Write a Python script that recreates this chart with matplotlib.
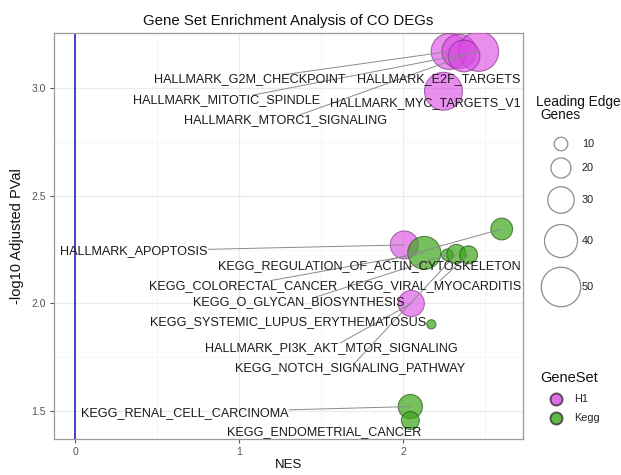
import numpy as np
import matplotlib
matplotlib.use("Agg")
import matplotlib.pyplot as plt

plt.rcParams['font.family'] = ['Liberation Sans', 'DejaVu Sans']

# ---- data ----
pathways = ["HALLMARK_G2M_CHECKPOINT", "HALLMARK_E2F_TARGETS", "HALLMARK_MITOTIC_SPINDLE",
            "HALLMARK_MTORC1_SIGNALING", "HALLMARK_MYC_TARGETS_V1", "HALLMARK_APOPTOSIS",
            "HALLMARK_PI3K_AKT_MTOR_SIGNALING", "KEGG_REGULATION_OF_ACTIN_CYTOSKELETON",
            "KEGG_COLORECTAL_CANCER", "KEGG_O_GLYCAN_BIOSYNTHESIS", "KEGG_NOTCH_SIGNALING_PATHWAY",
            "KEGG_VIRAL_MYOCARDITIS", "KEGG_SYSTEMIC_LUPUS_ERYTHEMATOSUS",
            "KEGG_RENAL_CELL_CARCINOMA", "KEGG_ENDOMETRIAL_CANCER"]
geneset = ["H1", "H1", "H1", "H1", "H1", "H1", "H1",
           "Kegg", "Kegg", "Kegg", "Kegg", "Kegg", "Kegg", "Kegg", "Kegg"]
nes = [2.28, 2.34, 2.46, 2.37, 2.245, 2.006, 2.049, 2.60, 2.128, 2.269, 2.324, 2.398, 2.171, 2.043, 2.043]
logp = [3.171, 3.171, 3.171, 3.150, 2.986, 2.272, 2.00, 2.346, 2.235, 2.226, 2.230, 2.226, 1.903, 1.521, 1.456]
leading = [47, 44, 53, 40, 50, 34, 31, 24, 42, 8, 20, 18, 4, 28, 18]

# label positions picked by the repel step in the original
lab_x = [1.064, 2.214, 0.924, 1.284, 2.135, 0.355, 1.560, 1.792, 1.021, 1.364, 1.676, 2.190, 1.297, 0.667, 1.517]
lab_y = [3.041, 3.041, 2.945, 2.853, 2.931, 2.244, 1.793, 2.175, 2.083, 2.005, 1.700, 2.083, 1.912, 1.493, 1.401]

size_breaks = [10, 20, 30, 40, 50]
set_names = ["H1", "Kegg"]

fill = {"H1": "#DA4AE4", "Kegg": "#3CA618"}
edge = {"H1": "#7A2A80", "Kegg": "#2A5A18"}
alpha = {"H1": 0.62, "Kegg": 0.7}


def marker_area(v):
    d_px = 6.75 + 0.625 * np.asarray(v, dtype=float)
    return (d_px * 0.72) ** 2


W, H = 621, 475
fig = plt.figure(figsize=(W / 100, H / 100), dpi=100)
ax = fig.add_axes([54 / W, 1 - 439 / H, (523 - 54) / W, (439 - 33) / H])

x = np.array(nes)
y = np.array(logp)
xmin, xmax = min(0, x.min()), x.max()
ymin, ymax = y.min(), y.max()
ax.set_xlim(xmin - 0.05 * (xmax - xmin), xmax + 0.05 * (xmax - xmin))
ax.set_ylim(ymin - 0.05 * (ymax - ymin), ymax + 0.05 * (ymax - ymin))

ax.set_xticks([0, 1, 2])
ax.set_xticks([0.5, 1.5, 2.5], minor=True)
ax.set_yticks([1.5, 2.0, 2.5, 3.0])
ax.set_yticks([1.75, 2.25, 2.75], minor=True)
ax.set_yticklabels(["1.5", "2.0", "2.5", "3.0"])
ax.grid(which="major", color="#EBEBEB", lw=0.9)
ax.grid(which="minor", color="#F5F5F5", lw=0.6)
ax.set_axisbelow(True)
for sp in ax.spines.values():
    sp.set_color("#9A9A9A")
    sp.set_linewidth(0.9)
ax.tick_params(which="major", length=3, width=0.8, color="#555555", labelsize=7.5,
               labelcolor="#555555", pad=3)
ax.tick_params(axis="x", which="major", pad=3)
ax.tick_params(which="minor", length=0)

ax.axvline(0, color="#3333CC", lw=1.3, zorder=1)

for g in set_names:
    m = np.array([s == g for s in geneset])
    ax.scatter(x[m], y[m], s=marker_area(np.array(leading)[m]), c=fill[g], edgecolors=edge[g],
               linewidths=0.8, alpha=alpha[g], zorder=3)

texts = []
for name, lx, ly in zip(pathways, lab_x, lab_y):
    t = ax.text(lx, ly, name, ha="center", va="center", fontsize=9.1, color="#1A1A1A", zorder=6)
    texts.append(t)

# connector segments: from the label box edge towards the point centre
fig.canvas.draw()
renderer = fig.canvas.get_renderer()
inv = ax.transData.inverted()
for t, px, py, v in zip(texts, x, y, leading):
    bb = t.get_window_extent(renderer)
    lx, ly = (bb.x0 + bb.x1) / 2, (bb.y0 + bb.y1) / 2
    cx, cy = ax.transData.transform((px, py))
    r = np.sqrt(marker_area(v)) / 0.72 / 2
    nx = min(max(cx, bb.x0), bb.x1)
    ny = min(max(cy, bb.y0), bb.y1)
    if np.hypot(cx - nx, cy - ny) < r + 6:
        continue
    dx, dy = cx - lx, cy - ly
    hw, hh = bb.width / 2 + 1, bb.height / 2 - 1
    s = min(hw / abs(dx) if dx else np.inf, hh / abs(dy) if dy else np.inf)
    sx, sy = lx + s * dx, ly + s * dy
    p0 = inv.transform((sx, sy))
    ax.plot([p0[0], px], [p0[1], py], color="#8A8A8A", lw=0.7, zorder=4)

ax.set_title("Gene Set Enrichment Analysis of CO DEGs", fontsize=10.8, color="#111111", pad=6)
ax.set_xlabel("NES", fontsize=9.5, color="#111111", labelpad=1)
ax.set_ylabel("-log10 Adjusted PVal", fontsize=10.5, color="#111111", labelpad=5)

# ---- legends, drawn in a pixel-space overlay ----
lg = fig.add_axes([0, 0, 1, 1], facecolor="none")
lg.set_xlim(0, W)
lg.set_ylim(H, 0)
lg.axis("off")

lg.text(536, 102, "Leading Edge", fontsize=9.8, va="center", ha="left", color="#111111")
lg.text(540, 115, "Genes", fontsize=9.8, va="center", ha="left", color="#111111")
size_y = [144, 168, 200, 241, 287]
for v, yy in zip(size_breaks, size_y):
    lg.scatter([561], [yy], s=marker_area(v) * 1.08, facecolors="none", edgecolors="#8C8C8C", linewidths=0.9)
    lg.text(582, yy, str(v), fontsize=7.8, va="center", ha="left", color="#222222")

lg.text(540, 378, "GeneSet", fontsize=10.5, va="center", ha="left", color="#111111")
for nm, yy in zip(set_names, [399, 418]):
    lg.scatter([556], [yy], s=(12 * 0.72) ** 2, c=fill[nm], edgecolors="#333333", linewidths=1.4, alpha=0.8)
    lg.text(574, yy, nm, fontsize=7.8, va="center", ha="left", color="#222222")

fig.savefig("out.png", dpi=100)
